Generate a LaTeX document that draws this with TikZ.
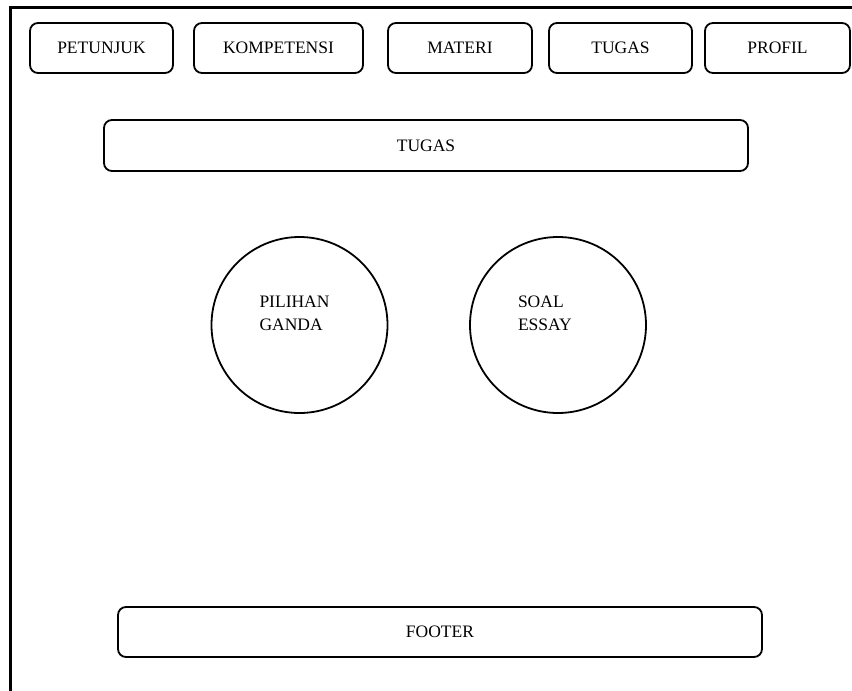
\documentclass[tikz,border=0pt]{standalone}
\usepackage{fontspec}
\setmainfont{Liberation Serif}
\usetikzlibrary{positioning}

\begin{document}
\begin{tikzpicture}[x=1pt,y=-1pt,
    every node/.style={font=\fontsize{17.5}{23}\selectfont},
    menu/.style={draw,line width=1.8pt,rounded corners=8pt,minimum height=50pt},
    bar/.style={menu,minimum width=644pt},
    soal/.style={draw,circle,line width=1.8pt,minimum size=176pt,
        text width=80pt,align=left}]
    \useasboundingbox (0,0) rectangle (852,691);
    % frame
    \draw[line width=3pt] (10.5,700) -- (10.5,7.5) -- (860,7.5);
    % menu
    \node(petunjuk)[menu,minimum width=143pt] at (101.5,48) {PETUNJUK};
    \node(kompetensi)[menu,minimum width=169pt] at (278.5,48) {KOMPETENSI};
    \node(materi)[menu,minimum width=144pt] at (460,48) {MATERI};
    \node(tugas)[menu,minimum width=143pt] at (620.5,48) {TUGAS};
    \node(profil)[menu,minimum width=145pt] at (777.5,48) {PROFIL};
    % isi
    \node(judul)[bar,minimum height=51pt] at (426,145.5) {TUGAS};
    \node(pg)[soal] at (299.5,325) {PILIHAN\\GANDA\\~};
    \node(essay)[soal] at (558,325) {SOAL\\ESSAY\\~};
    \node(footer)[bar] at (440,632) {FOOTER};
\end{tikzpicture}
\end{document}
